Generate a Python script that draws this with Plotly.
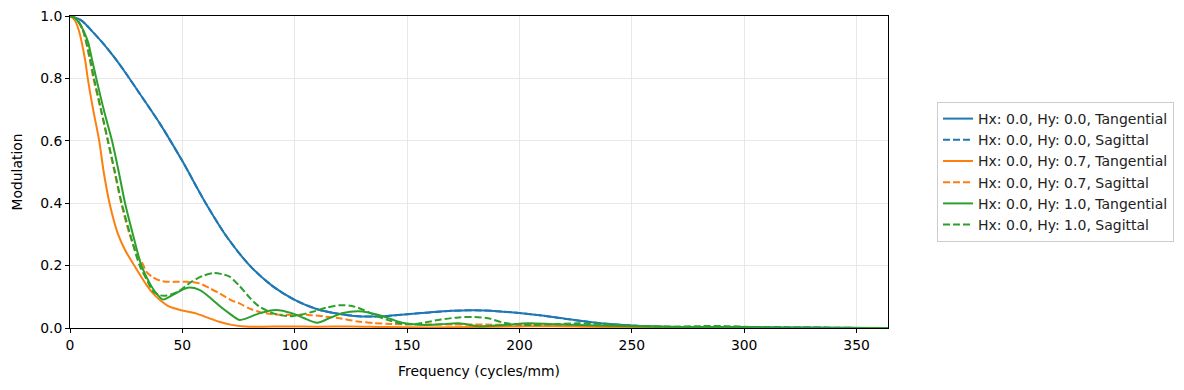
import plotly.graph_objects as go

# ---- data ----
freq_blue = [0, 5, 10, 15, 20, 25, 30, 40, 50, 60, 70, 80, 90, 100, 110, 120, 130, 140, 150, 160,
             170, 180, 190, 200, 210, 220, 235, 250, 265, 280, 300, 320, 340, 355, 364]
mtf_blue_t = [1.0, 0.986, 0.95, 0.91, 0.865, 0.815, 0.762, 0.655, 0.535, 0.405, 0.29, 0.2, 0.135,
              0.09, 0.06, 0.045, 0.037, 0.038, 0.044, 0.05, 0.055, 0.057, 0.054, 0.048, 0.04, 0.03,
              0.016, 0.008, 0.004, 0.003, 0.003, 0.002, 0.001, 0.0, 0.0]
mtf_blue_s = list(mtf_blue_t)

freq_orange_t = [0, 2, 4, 6.7, 7.9, 10.3, 13.0, 15.0, 17.6, 21.4, 24.5, 28.6, 31, 34, 37, 40, 44, 50,
                 56, 62, 66.5, 72, 78, 85, 95, 110, 125, 140, 160, 180, 200, 215, 230, 250, 270,
                 300, 364]
mtf_orange_t = [1.0, 0.988, 0.952, 0.86, 0.8, 0.7, 0.6, 0.5, 0.4, 0.3, 0.25, 0.2, 0.172, 0.138, 0.11,
                0.09, 0.069, 0.056, 0.047, 0.031, 0.02, 0.01, 0.005, 0.004, 0.005, 0.004, 0.005,
                0.003, 0.002, 0.003, 0.005, 0.006, 0.004, 0.002, 0.001, 0.0, 0.0]

freq_orange_s = [0, 2, 4, 6, 8.8, 10.4, 13.7, 16.8, 19.8, 22.8, 26.5, 30.5, 32.4, 34, 37, 40, 44,
                 48, 52, 57.6, 62, 66.5, 72, 75.4, 80, 85, 92, 100, 106, 113, 120, 128, 135, 143,
                 155, 170, 185, 200, 220, 240, 260, 280, 300, 364]
mtf_orange_s = [1.0, 0.995, 0.978, 0.948, 0.86, 0.8, 0.7, 0.6, 0.5, 0.4, 0.3, 0.225, 0.205, 0.18,
                0.162, 0.152, 0.148, 0.148, 0.148, 0.143, 0.128, 0.111, 0.088, 0.079, 0.062, 0.05,
                0.043, 0.042, 0.042, 0.037, 0.031, 0.021, 0.016, 0.013, 0.012, 0.011, 0.011, 0.009,
                0.008, 0.006, 0.004, 0.002, 0.0, 0.0]

freq_green_t = [0, 2, 4, 6, 8, 9.8, 11.7, 15.0, 18.7, 21.7, 24.5, 28.0, 31.8, 35.5, 38.5, 41.4, 45.8,
                52.4, 57.6, 63.5, 67, 70.9, 75.4, 80, 84.2, 91.6, 99, 104, 110, 115, 121, 128.5,
                137.4, 143, 149, 158, 165, 173, 181.7, 192, 204, 215, 230, 250, 265, 280, 300, 364]
mtf_green_t = [1.0, 0.995, 0.979, 0.953, 0.917, 0.86, 0.8, 0.7, 0.6, 0.5, 0.4, 0.3, 0.2, 0.143, 0.11,
               0.091, 0.106, 0.129, 0.122, 0.09, 0.068, 0.047, 0.026, 0.035, 0.047, 0.058, 0.047,
               0.032, 0.017, 0.03, 0.047, 0.054, 0.042, 0.028, 0.015, 0.01, 0.012, 0.015, 0.006,
               0.009, 0.015, 0.012, 0.009, 0.006, 0.004, 0.003, 0.001, 0.0]

freq_green_s = [0, 2, 4, 6, 9.0, 10.7, 13.8, 16.9, 20.0, 23.0, 26.8, 31.0, 34.5, 37, 40, 43, 48, 54,
                59, 64, 68, 71, 75.4, 80, 84, 91.6, 99, 108, 114, 120, 125, 128.5, 133, 137.4, 143,
                148, 153, 158, 165, 173, 180, 186, 193.6, 204, 215, 226, 238, 250, 265, 280, 292,
                305, 320, 364]
mtf_green_s = [1.0, 0.995, 0.98, 0.95, 0.86, 0.8, 0.7, 0.6, 0.5, 0.4, 0.3, 0.2, 0.15, 0.117, 0.105,
               0.104, 0.116, 0.148, 0.167, 0.176, 0.172, 0.165, 0.135, 0.097, 0.07, 0.044, 0.038,
               0.052, 0.065, 0.073, 0.071, 0.064, 0.05, 0.036, 0.022, 0.013, 0.012, 0.018, 0.027,
               0.034, 0.035, 0.031, 0.016, 0.01, 0.012, 0.015, 0.012, 0.007, 0.004, 0.006, 0.006,
               0.003, 0.001, 0.0]

series = [
    ("Hx: 0.0, Hy: 0.0, Tangential", freq_blue, mtf_blue_t, "#1f77b4", "solid"),
    ("Hx: 0.0, Hy: 0.0, Sagittal", freq_blue, mtf_blue_s, "#1f77b4", "7px,3px"),
    ("Hx: 0.0, Hy: 0.7, Tangential", freq_orange_t, mtf_orange_t, "#ff7f0e", "solid"),
    ("Hx: 0.0, Hy: 0.7, Sagittal", freq_orange_s, mtf_orange_s, "#ff7f0e", "7px,3px"),
    ("Hx: 0.0, Hy: 1.0, Tangential", freq_green_t, mtf_green_t, "#2ca02c", "solid"),
    ("Hx: 0.0, Hy: 1.0, Sagittal", freq_green_s, mtf_green_s, "#2ca02c", "7px,3px"),
]

x_ticks = [0, 50, 100, 150, 200, 250, 300, 350]
y_ticks = [0.0, 0.2, 0.4, 0.6, 0.8, 1.0]

FONT = "DejaVu Sans"
FS = 13.9

fig = go.Figure()
for name, xs, ys, color, dash in series:
    fig.add_trace(go.Scatter(
        x=xs, y=ys, name=name, mode="lines",
        line=dict(color=color, width=2, dash=dash, shape="spline", smoothing=0.8),
    ))

axis_common = dict(
    showline=True, linecolor="black", linewidth=1, mirror=True,
    ticks="outside", ticklen=4, tickcolor="black", tickwidth=1,
    showgrid=True, gridcolor="#e8e8e8", gridwidth=1, zeroline=False,
    tickfont=dict(family=FONT, size=FS, color="black"),
    automargin=False,
)

fig.update_layout(
    width=1184, height=390,
    margin=dict(l=70, r=295, t=16, b=62),
    paper_bgcolor="white", plot_bgcolor="white",
    font=dict(family=FONT, size=FS, color="black"),
    showlegend=True,
    legend=dict(
        x=1.348, y=0.5, xanchor="right", yanchor="middle",
        bordercolor="#cccccc", borderwidth=1, bgcolor="white",
        font=dict(family=FONT, size=14.0, color="#222222"),
        itemwidth=30, tracegroupgap=0,
    ),
    xaxis=dict(
        range=[0, 364], tickvals=x_ticks,
        title=dict(text="Frequency (cycles/mm)", standoff=14, font=dict(family=FONT, size=FS)),
        **axis_common,
    ),
    yaxis=dict(
        range=[0, 1], tickvals=y_ticks, tickformat=".1f",
        title=dict(text="Modulation", standoff=14, font=dict(family=FONT, size=FS)),
        **axis_common,
    ),
)

fig.write_html("out.html", config={"displayModeBar": False},
               post_script="document.body.style.margin='0px';")
